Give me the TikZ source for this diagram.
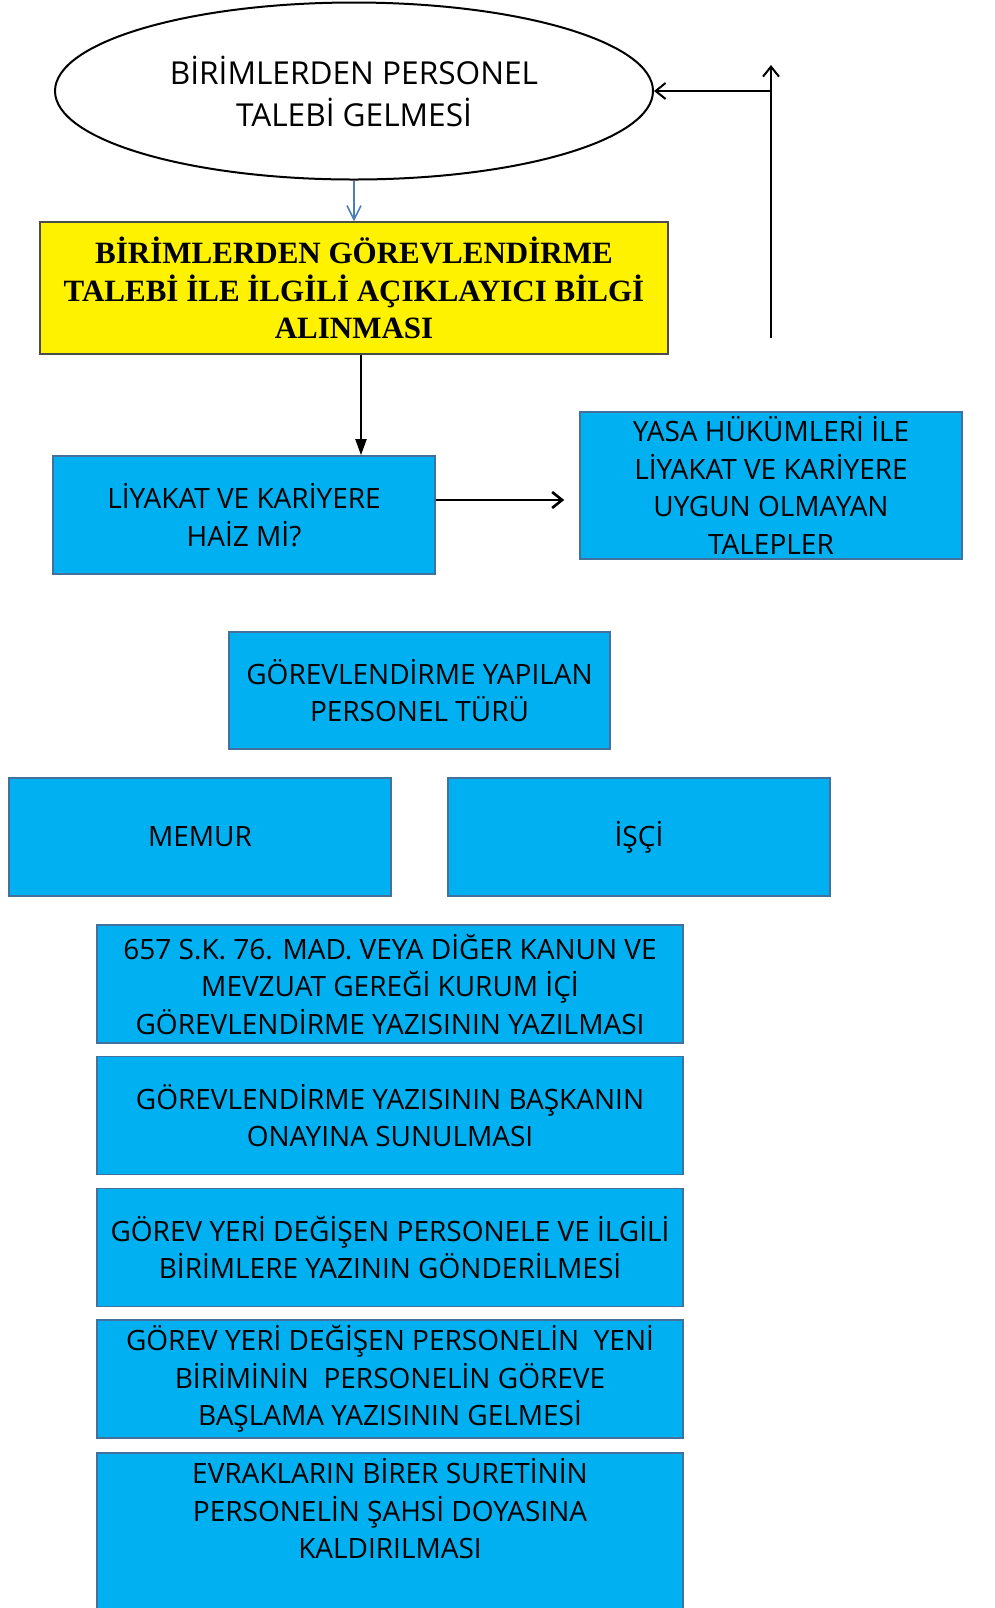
\documentclass[tikz,border=0pt]{standalone}
\usepackage{fontspec}
\setmainfont{Open Sans}
\newfontfamily\timesfont{Liberation Serif}
\usetikzlibrary{shapes.geometric,arrows.meta}

\definecolor{kutumavi}{HTML}{00B0F0}
\definecolor{kenarmavi}{HTML}{41719C}
\definecolor{okmavi}{HTML}{4A7EBB}

\tikzset{
	kutu/.style={draw=kenarmavi,line width=0.8pt,fill=kutumavi,align=center,inner sep=0pt,
		minimum width=191pt,minimum height=59pt,font=\fontsize{14}{18.75}\selectfont},
	adimkutu/.style={kutu,minimum width=293pt},
	acikok/.style={draw=black,line width=1pt,-{Straight Barb[length=5pt,width=8pt]}},
	doluok/.style={draw=black,line width=1pt,-{Triangle[length=8pt,width=5.5pt]}}
}

\begin{document}
\begin{tikzpicture}[x=0.5pt,y=-0.5pt]
	\useasboundingbox (0,0) rectangle (995,1608);
	
	%START
	\node[ellipse,draw,line width=1pt,inner sep=0pt,minimum width=299pt,minimum height=88.5pt,
		align=center,font=\fontsize{15.8}{21}\selectfont] (istek) at (354,91)
		{BİRİMLERDEN PERSONEL\\TALEBİ GELMESİ};
	\node[draw=black!70,line width=0.6pt,fill=yellow,align=center,inner sep=0pt,
		minimum width=314pt,minimum height=66pt,font=\timesfont\bfseries\fontsize{15.5}{18.75}\selectfont] (bilgi) at (354,288)
		{BİRİMLERDEN GÖREVLENDİRME\\TALEBİ İLE İLGİLİ AÇIKLAYICI BİLGİ\\ALINMASI};
	
	%CHECK
	\node[kutu] (liyakat) at (244,515) {LİYAKAT VE KARİYERE\\HAİZ Mİ?};
	\node[kutu,minimum height=73.5pt] (yasa) at (771,485.5)
		{YASA HÜKÜMLERİ İLE\\LİYAKAT VE KARİYERE\\UYGUN OLMAYAN\\TALEPLER};
	
	%PERSONNEL TYPE
	\node[kutu,minimum width=190.5pt,minimum height=58.5pt] (tur) at (419.5,690.5)
		{GÖREVLENDİRME YAPILAN\\PERSONEL TÜRÜ};
	\node[kutu] (memur) at (200,837) {MEMUR};
	\node[kutu] (isci) at (639,837) {İŞÇİ};
	
	%STEPS
	\node[adimkutu] (yazi) at (390,984)
		{657 S.K. 76. MAD. VEYA DİĞER KANUN VE\\MEVZUAT GEREĞİ KURUM İÇİ\\GÖREVLENDİRME YAZISININ YAZILMASI};
	\node[adimkutu] (onay) at (390,1115.5)
		{GÖREVLENDİRME YAZISININ BAŞKANIN\\ONAYINA SUNULMASI};
	\node[adimkutu] (gonderim) at (390,1247.5)
		{GÖREV YERİ DEĞİŞEN PERSONELE VE İLGİLİ\\BİRİMLERE YAZININ GÖNDERİLMESİ};
	\node[adimkutu] (baslama) at (390,1379)
		{GÖREV YERİ DEĞİŞEN PERSONELİN~ YENİ\\BİRİMİNİN~ PERSONELİN GÖREVE\\BAŞLAMA YAZISININ GELMESİ};
	\node[adimkutu,anchor=north,minimum height=90pt] (arsiv) at (390,1452) {};
	\node[align=center,inner sep=0pt,font=\fontsize{14}{18.75}\selectfont] (arsivyazi) at (390,1509)
		{EVRAKLARIN BİRER SURETİNİN\\PERSONELİN ŞAHSİ DOYASINA\\KALDIRILMASI};
	
	%ARROWS
	\draw[draw=okmavi,line width=0.8pt,-{Straight Barb[length=7pt,width=7pt]}] (istek.south) -- (bilgi.north);
	\coordinate (dusey) at (361,0);
	\draw[doluok] (bilgi.south -| dusey) -- (liyakat.north -| dusey);
	\draw[acikok,line width=1.3pt,shorten >=7.5pt] ([yshift=7.5pt]liyakat.east) -- ([yshift=7.5pt]liyakat.east -| yasa.west);
	\coordinate (geriayak) at (771,338);
	\coordinate (geriust) at (771,65);
	\coordinate (geridon) at (771,91);
	\draw[acikok] (geriayak) -- (geriust);
	\draw[acikok] (geridon) -- (istek.east);
\end{tikzpicture}
\end{document}
